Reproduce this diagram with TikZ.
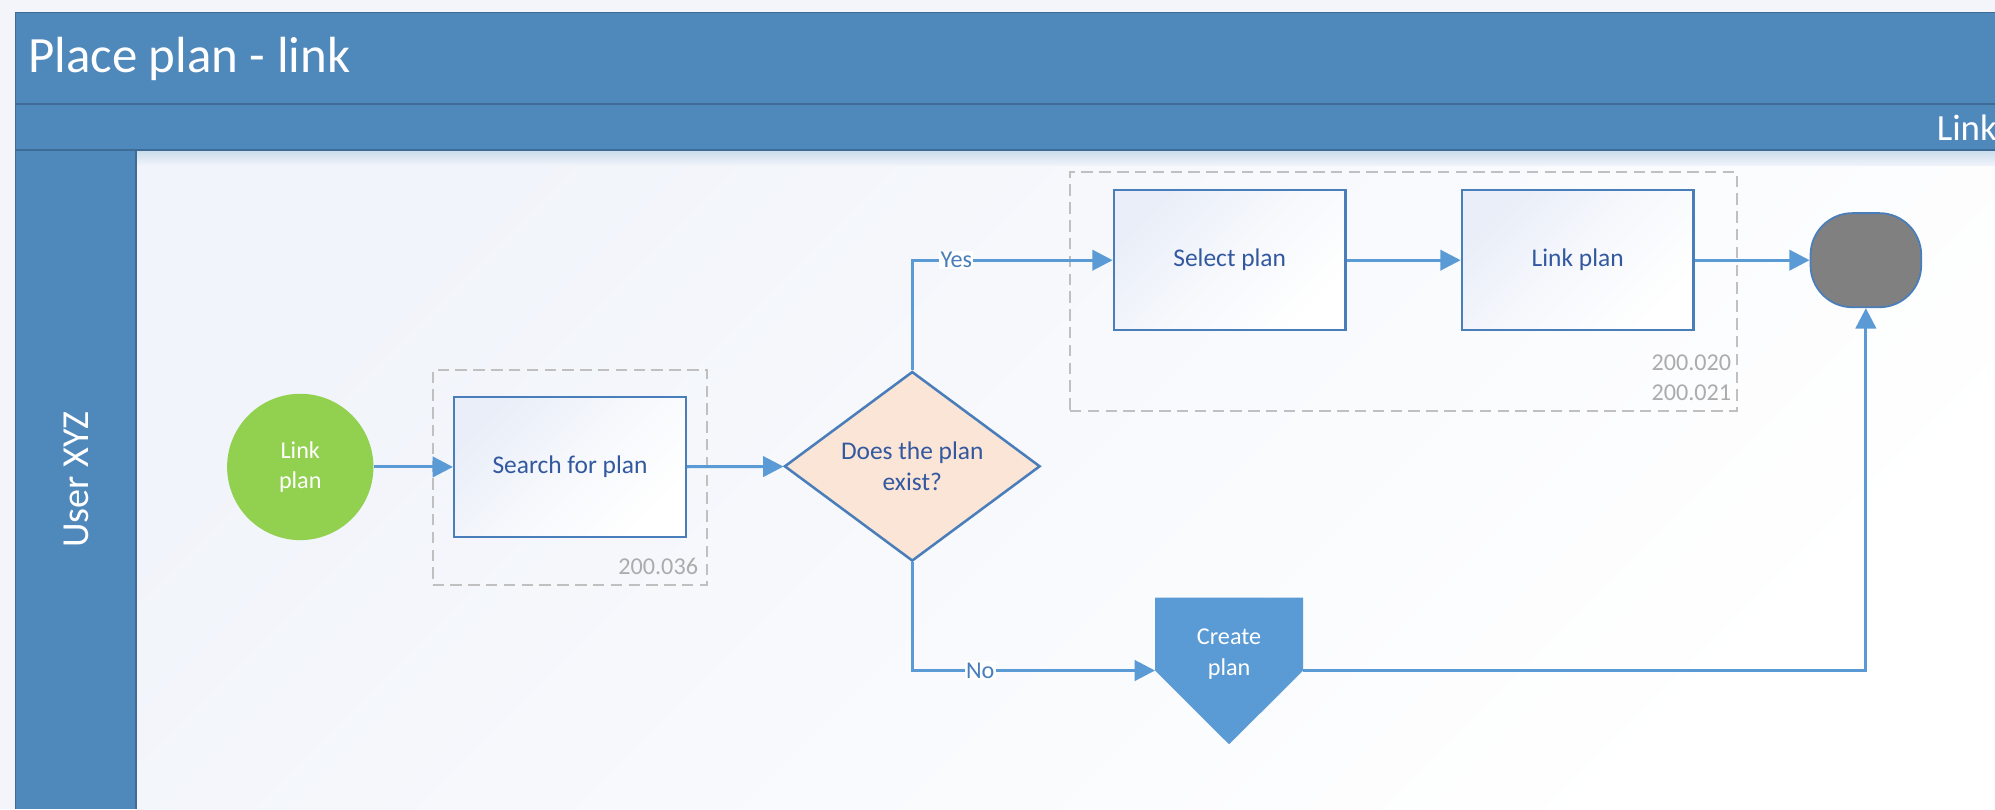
\documentclass[tikz,border=0pt]{standalone}
\usepackage{fontspec}
\setmainfont{Carlito}
\usetikzlibrary{arrows.meta,shapes.geometric}
\definecolor{poolblue}{RGB}{79,136,187}
\definecolor{pooledge}{RGB}{62,108,150}
\definecolor{flowblue}{RGB}{91,155,213}
\definecolor{taskedge}{RGB}{74,126,187}
\definecolor{tasktext}{RGB}{50,88,160}
\definecolor{taskshade}{RGB}{233,238,248}
\definecolor{startgreen}{RGB}{146,208,80}
\definecolor{decidefill}{RGB}{251,229,214}
\definecolor{grpgray}{RGB}{192,192,192}
\definecolor{idgray}{RGB}{172,172,172}
\definecolor{pagebg}{RGB}{243,245,250}
\definecolor{laneshade}{RGB}{241,244,250}
\definecolor{endgray}{RGB}{128,128,128}
\begin{document}
\begin{tikzpicture}[x=1pt,y=-1pt,
  flow/.style={draw=flowblue, line width=2.4pt, -{Triangle[length=16pt,width=16pt]}},
  flowlabel/.style={fill=white, inner sep=1pt, text=taskedge, font=\fontsize{19}{22}\selectfont},
  task/.style={draw=taskedge, line width=2pt, top color=taskshade, bottom color=white, middle color=white!60!taskshade,
    shading angle=45, minimum width=182pt, minimum height=110pt, text=tasktext, font=\fontsize{20}{24}\selectfont},
  startev/.style={circle, fill=startgreen, minimum size=115pt, inner sep=0pt, text=white, align=center,
    font=\fontsize{19}{24}\selectfont},
  decide/.style={diamond, draw=taskedge, line width=2pt, fill=decidefill, aspect=1.35, inner sep=0pt,
    minimum width=201pt, minimum height=149pt, text=tasktext, align=center, font=\fontsize{20}{24}\selectfont},
  endev/.style={rectangle, rounded corners=33pt, draw=taskedge, line width=1.4pt, fill=endgray,
    minimum width=87pt, minimum height=74pt},
  offpage/.style={rectangle, minimum width=116pt, minimum height=88pt, inner sep=0pt, text=white, align=center,
    font=\fontsize{19}{24}\selectfont},
  grp/.style={draw=grpgray, line width=1.6pt, dash pattern=on 9pt off 5pt},
  idtext/.style={text=idgray, align=right, inner sep=0pt, font=\fontsize{19}{22}\selectfont},
  headtext/.style={text=white, inner sep=0pt}]
\useasboundingbox (0,0) rectangle (1568,636);
\fill [pagebg] (0,0) rectangle (1568,636);
\shade [top color=laneshade, bottom color=white, shading angle=45] (107,118) rectangle (1568,636);
\shade [top color=poolblue!30, bottom color=laneshade] (107,118) rectangle (1568,130);
\fill [poolblue] (12,10) rectangle (1568,118);
\fill [poolblue] (12,118) rectangle (107,636);
\draw [pooledge, line width=1.2pt] (1568,10) -- (12,10) -- (12,636);
\draw [pooledge, line width=1.6pt] (12,82) -- (1568,82);
\draw [pooledge, line width=1.6pt] (12,118) -- (1568,118);
\draw [pooledge, line width=1.6pt] (107,118) -- (107,636);
\node [headtext, anchor=west, font=\fontsize{40}{44}\selectfont] (title) at (22,46) {Place plan - link};
\node [headtext, anchor=west, font=\fontsize{29}{32}\selectfont] (phase) at (1522,100) {Link};
\node [headtext, rotate=90, font=\fontsize{30}{33}\selectfont] (lane) at (60,377) {User XYZ};

\node [grp, minimum width=216pt, minimum height=169pt] (grpsearch) at (448,375.5) {};
\node [idtext, anchor=south east] (idsearch) at ([shift={(-8pt,9pt)}]grpsearch.south east) {200.036};
\node [grp, minimum width=524pt, minimum height=188pt] (grplink) at (1103,229) {};
\node [idtext, anchor=south east] (idlink) at ([shift={(-5pt,9pt)}]grplink.south east) {200.020\\[1pt]200.021};

\node [startev] (start) at (236,367) {Link\\plan};
\node [task] (search) at (448,367) {Search for plan};
\node [decide] (check) at (717,366.5) {Does the plan\\exist?};
\node [task] (select) at (966.5,204.5) {Select plan};
\node [task] (link) at (1240,204.5) {Link plan};
\node [endev] (end) at (1466.5,204.5) {};
\node [offpage] (create) at (966,514) {};
\fill [flowblue] (create.north west) -- (create.north east) -- ([yshift=-13pt]create.east)
  -- ([yshift=-71pt]create.center) -- ([yshift=-13pt]create.west) -- cycle;
\node [offpage] at (create) {Create\\plan};
\coordinate (createin) at ([yshift=-13pt]create.west);
\coordinate (createout) at ([yshift=-13pt]create.east);

\draw [flow] (start) -- (search);
\draw [flow] (search) -- (check);
\draw [flow] (check.north) |- node [flowlabel, pos=0.61] {Yes} (select.west);
\draw [flow] (select) -- (link);
\draw [flow] (link) -- (end);
\draw [flow] (check.south) |- node [flowlabel, pos=0.64] {No} (createin);
\draw [flow] (createout) -| (end.south);
\end{tikzpicture}
\end{document}
